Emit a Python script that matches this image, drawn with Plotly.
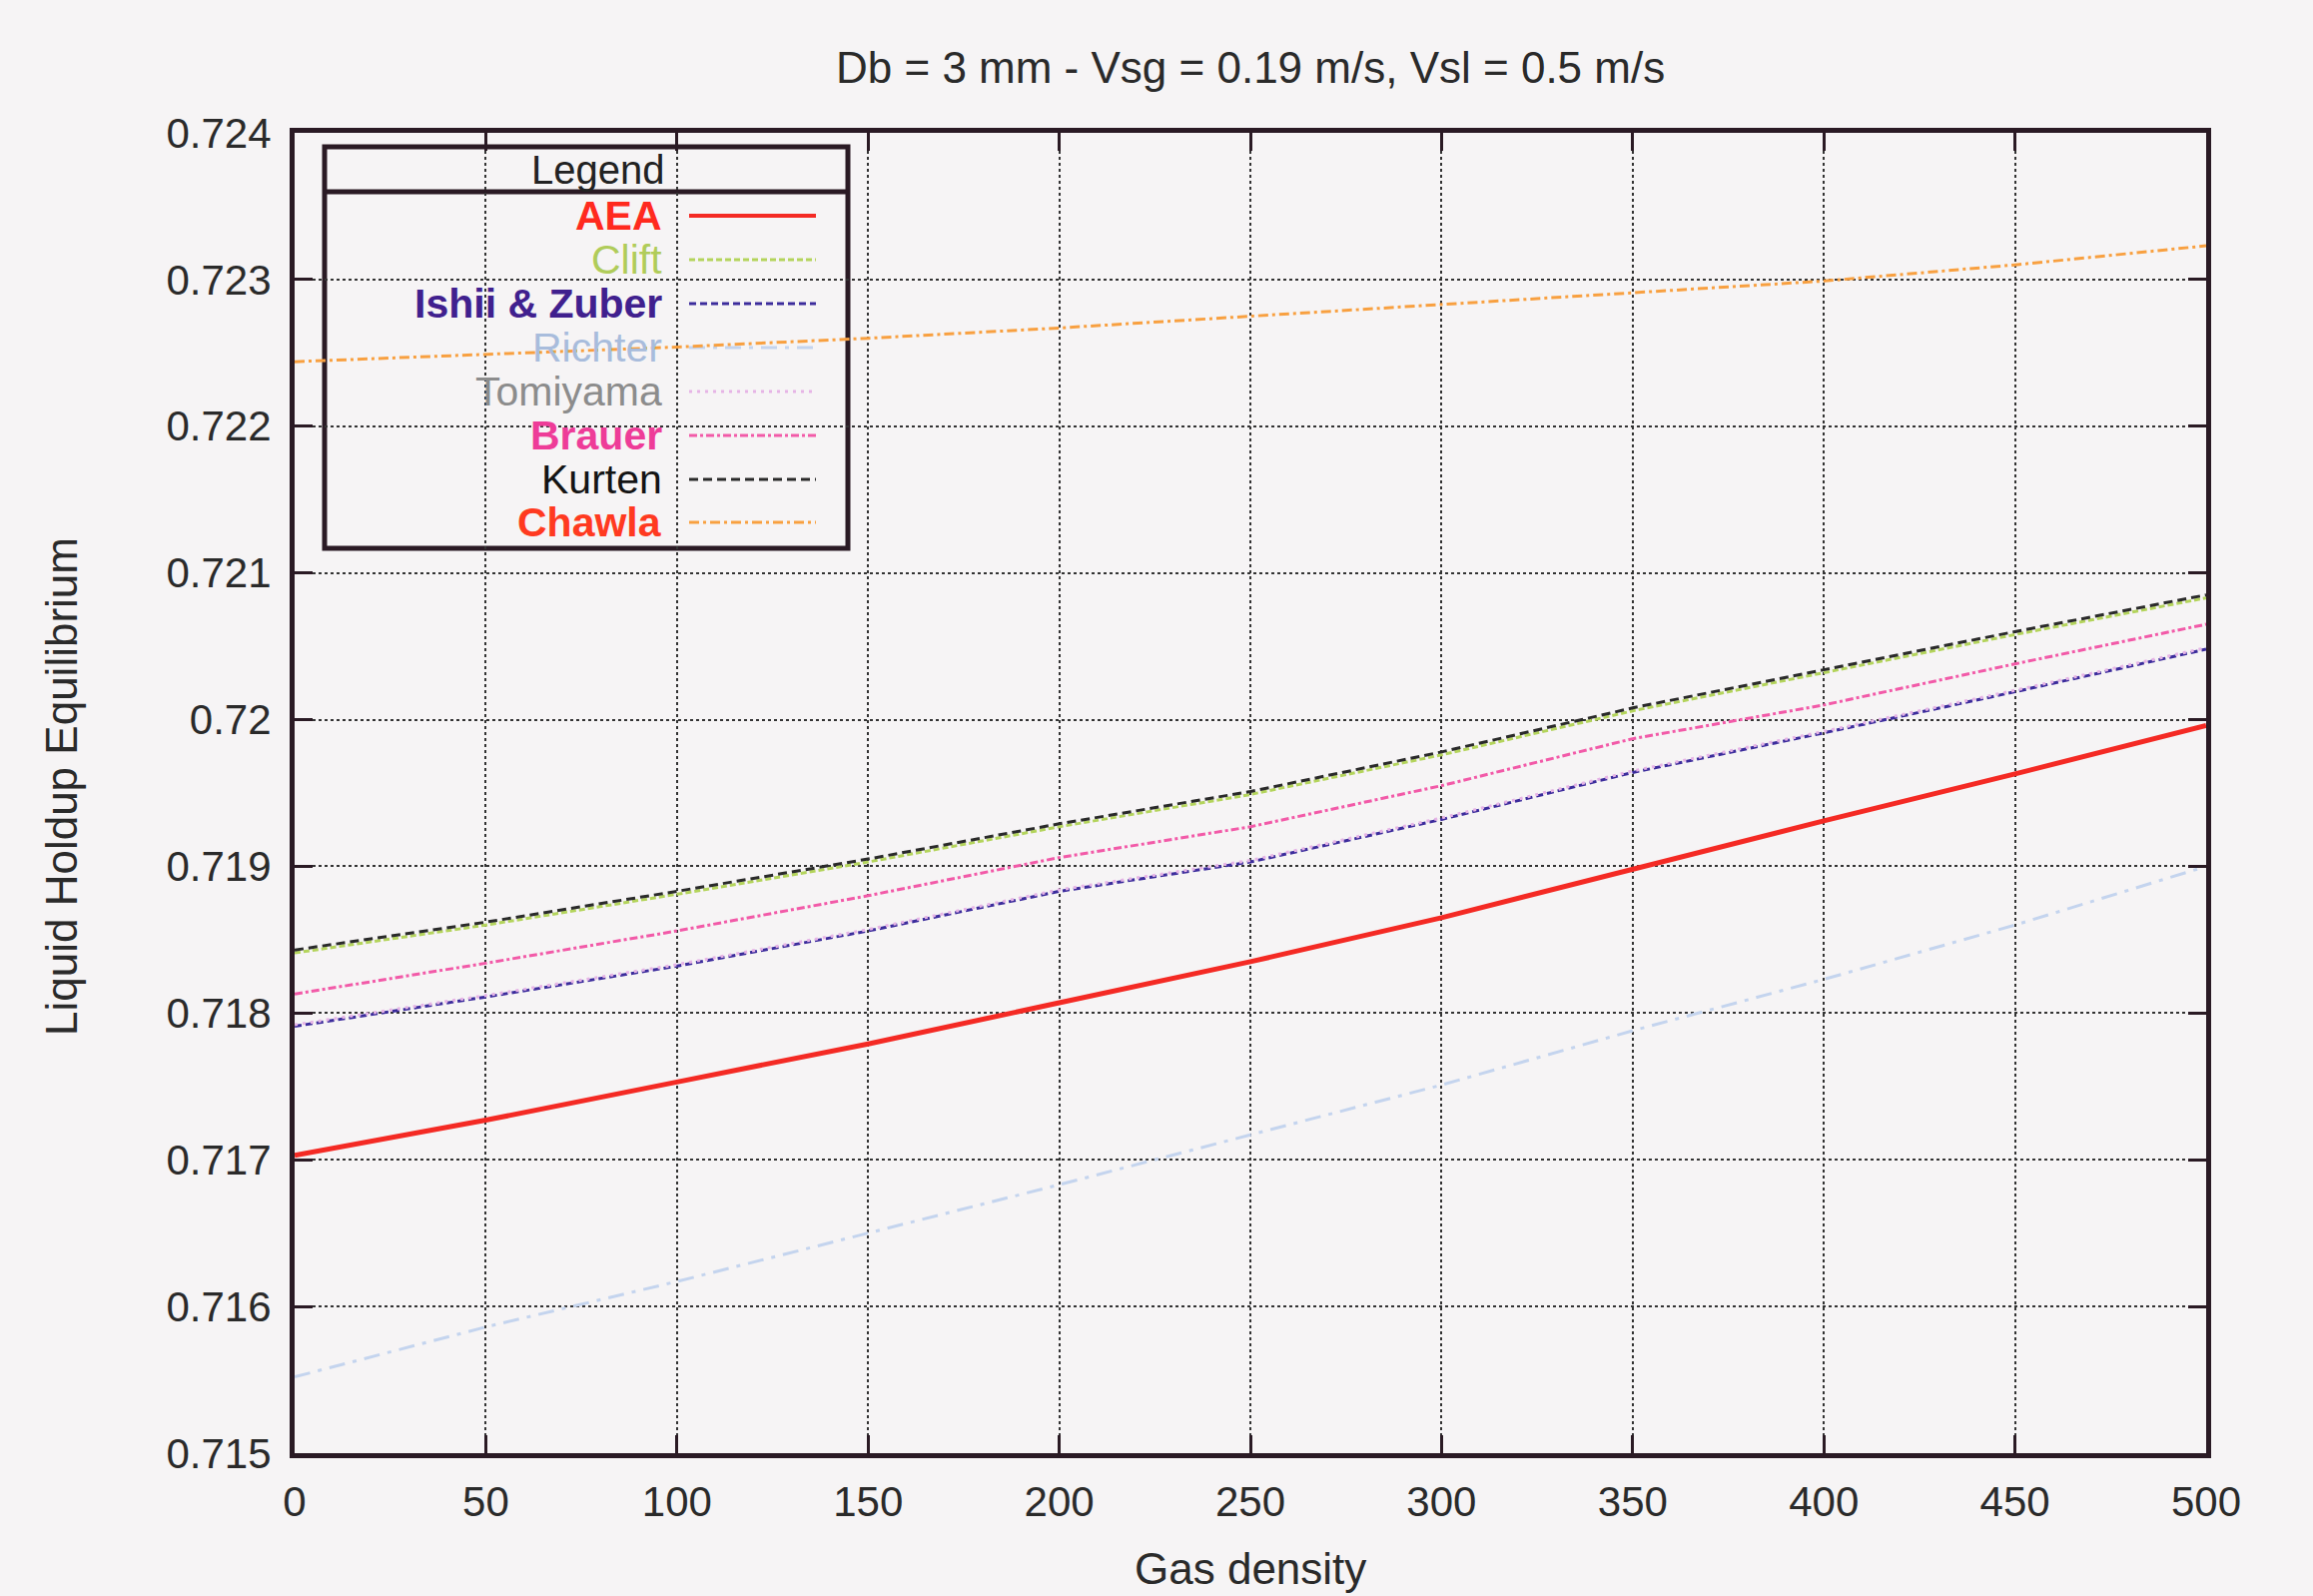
import plotly.graph_objects as go

# ---------------- data ----------------
gas_density = [0, 50, 100, 150, 200, 250, 300, 350, 400, 450, 500]

aea      = [0.71703, 0.71727, 0.71753, 0.71779, 0.71807, 0.71835, 0.71865, 0.71898, 0.71931, 0.71963, 0.71996]
clift    = [0.71841, 0.71860, 0.71881, 0.71903, 0.71927, 0.71949, 0.71976, 0.72006, 0.72032, 0.72058, 0.72083]
ishii    = [0.71791, 0.71811, 0.71832, 0.71856, 0.71883, 0.71903, 0.71932, 0.71964, 0.71991, 0.72019, 0.72048]
richter  = [0.71552, 0.71586, 0.71617, 0.71650, 0.71683, 0.71717, 0.71751, 0.71788, 0.71823, 0.71860, 0.71900]
tomiyama = [0.71792, 0.71812, 0.71833, 0.71857, 0.71884, 0.71904, 0.71933, 0.71965, 0.71992, 0.72020, 0.72049]
brauer   = [0.71813, 0.71834, 0.71856, 0.71880, 0.71906, 0.71927, 0.71955, 0.71987, 0.72010, 0.72038, 0.72065]
kurten   = [0.71843, 0.71862, 0.71883, 0.71905, 0.71929, 0.71951, 0.71978, 0.72008, 0.72034, 0.72060, 0.72085]
chawla   = [0.72244, 0.72249, 0.72254, 0.72260, 0.72267, 0.72275, 0.72283, 0.72291, 0.72299, 0.72310, 0.72323]

series_names = ["AEA", "Clift", "Ishii & Zuber", "Richter", "Tomiyama", "Brauer", "Kurten", "Chawla"]
series_values = [aea, clift, ishii, richter, tomiyama, brauer, kurten, chawla]

x_ticks = [0, 50, 100, 150, 200, 250, 300, 350, 400, 450, 500]
y_ticks = [0.715, 0.716, 0.717, 0.718, 0.719, 0.72, 0.721, 0.722, 0.723, 0.724]
y_tick_text = ["0.715", "0.716", "0.717", "0.718", "0.719", "0.72", "0.721", "0.722", "0.723", "0.724"]

title_text = "Db = 3 mm - Vsg = 0.19 m/s, Vsl = 0.5 m/s"
x_title = "Gas density"
y_title = "Liquid Holdup Equilibrium"
legend_title = "Legend"

# ---------------- styles ----------------
line_colors = ["#f42a24", "#b4d45c", "#3c2c9c", "#c4d4ee", "#e6b4e6", "#f25aa8", "#2a2a2a", "#f8a040"]
text_colors = ["#ff2a1e", "#b0cc5a", "#40208e", "#a8bcdc", "#8c8c8c", "#ee3c98", "#141414", "#ff3a20"]
text_bold = [True, False, True, False, False, True, False, True]
dashes = ["solid", "6px,3px", "7px,4px", "16px,8px,4px,8px", "3px,5px", "8px,3px,3px,3px", "9px,5px", "10px,4px,3px,4px"]
widths = [5, 3, 3, 3, 3, 3, 3, 3]

W, H = 2316, 1598
L, R, T, B = 295, 2209, 133, 1455
FONT = "Liberation Sans, Arial, sans-serif"
BG = "#f6f4f5"
AX = "#2a1a24"
TXT = "#2a2a2a"


def px(X):
    return (X - L) / (R - L)


def py(Y):
    return (B - Y) / (B - T)


fig = go.Figure()
for name, vals, c, d, w in zip(series_names, series_values, line_colors, dashes, widths):
    fig.add_trace(go.Scatter(x=gas_density, y=vals, mode="lines", name=name,
                             line=dict(color=c, dash=d, width=w), showlegend=False))

shapes = []
annotations = []

# legend box (opaque over grid, below data)
bx0, bx1, by0, by1 = 325, 849, 147, 549
shapes.append(dict(type="rect", xref="paper", yref="paper", layer="between",
                   x0=px(bx0), x1=px(bx1), y0=py(by1), y1=py(by0),
                   fillcolor=BG, line=dict(color=AX, width=5)))
shapes.append(dict(type="line", xref="paper", yref="paper", layer="between",
                   x0=px(bx0), x1=px(bx1), y0=py(192), y1=py(192),
                   line=dict(color=AX, width=5)))
annotations.append(dict(text=legend_title, xref="paper", yref="paper",
                        x=px(598), y=py(170), xanchor="center", yanchor="middle",
                        showarrow=False, font=dict(family=FONT, size=40, color="#222")))

row_y = [216, 260, 304, 348, 392, 436, 480, 523]
for name, tc, lc, d, w, ry, bold in zip(series_names, text_colors, line_colors, dashes, widths, row_y, text_bold):
    label = "<b>" + name + "</b>" if bold else name
    annotations.append(dict(text=label, xref="paper", yref="paper",
                            x=px(665), y=py(ry), xanchor="right", yanchor="middle",
                            showarrow=False, font=dict(family=FONT, size=41, color=tc)))
    shapes.append(dict(type="line", xref="paper", yref="paper", layer="between",
                       x0=px(690), x1=px(817), y0=py(ry), y1=py(ry),
                       line=dict(color=lc, dash=d, width=min(w, 4))))

annotations.append(dict(text=title_text, xref="paper", yref="paper",
                        x=0.5, y=py(68), xanchor="center", yanchor="middle",
                        showarrow=False, font=dict(family=FONT, size=44, color=TXT)))
annotations.append(dict(text=x_title, xref="paper", yref="paper",
                        x=0.5, y=py(1570), xanchor="center", yanchor="middle",
                        showarrow=False, font=dict(family=FONT, size=44, color=TXT)))
annotations.append(dict(text=y_title, xref="paper", yref="paper", textangle=-90,
                        x=px(62), y=py(788), xanchor="center", yanchor="middle",
                        showarrow=False, font=dict(family=FONT, size=44, color=TXT)))

axis_common = dict(showline=True, linecolor=AX, linewidth=5, mirror="allticks",
                   ticks="inside", ticklen=18, tickwidth=3, tickcolor=AX,
                   showgrid=True, gridcolor="#333333", gridwidth=2, griddash="dot",
                   zeroline=False)

fig.update_layout(
    width=W, height=H,
    margin=dict(l=L, r=W - R, t=T, b=H - B),
    paper_bgcolor=BG, plot_bgcolor=BG,
    font=dict(family=FONT, color=TXT),
    xaxis=dict(range=[0, 500], tickvals=x_ticks, tickfont=dict(size=42, color=TXT),
               ticklabelstandoff=8, **axis_common),
    yaxis=dict(range=[0.715, 0.724], tickvals=y_ticks, ticktext=y_tick_text,
               tickfont=dict(size=42, color=TXT), ticklabelstandoff=10, **axis_common),
    shapes=shapes, annotations=annotations, showlegend=False,
)

fig.write_html("out.html")
